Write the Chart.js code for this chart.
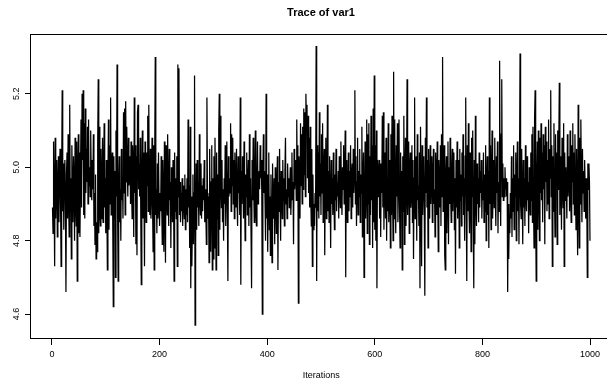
<!DOCTYPE html>
<html>
<head>
<meta charset="utf-8">
<script src="https://cdn.jsdelivr.net/npm/chart.js@4/dist/chart.umd.min.js"></script>
<style>
  html, body { margin: 0; padding: 0; background: #fff; overflow: hidden; }
  #wrap { width: 607px; height: 388px; overflow: hidden; }
</style>
</head>
<body>
<div id="wrap"><canvas id="trace" width="642" height="388"></canvas></div>
<script>
// trace of var1, iterations 1..1000 (10 per row)
const var1 = [
  4.89, 4.82, 5.07, 4.92, 4.73, 5.08, 4.86, 4.96, 5.02, 4.81,
  4.94, 5.03, 4.85, 4.98, 5.05, 4.90, 4.73, 4.96, 5.21, 4.88,
  5.01, 4.83, 4.95, 5.02, 4.91, 4.66, 4.98, 5.04, 4.86, 5.09,
  4.92, 4.81, 5.17, 4.88, 4.97, 4.75, 5.06, 4.93, 4.85, 5.03,
  4.96, 4.80, 5.08, 4.91, 4.84, 5.07, 4.69, 4.98, 5.09, 4.82,
  5.04, 4.81, 4.97, 5.13, 4.89, 5.20, 5.02, 5.21, 4.87, 5.12,
  4.86, 5.16, 4.93, 5.05, 4.96, 5.11, 4.90, 5.13, 4.95, 5.00,
  4.92, 5.10, 4.97, 4.91, 5.02, 4.94, 5.09, 4.84, 4.93, 4.79,
  4.98, 4.75, 4.85, 4.77, 5.06, 5.24, 4.82, 5.11, 4.88, 4.84,
  5.05, 4.86, 4.93, 5.08, 4.85, 4.96, 5.12, 4.89, 4.97, 4.82,
  5.02, 4.91, 4.72, 4.95, 5.13, 4.83, 5.06, 4.90, 5.19, 4.87,
  4.98, 5.04, 4.85, 4.62, 5.03, 4.86, 4.99, 4.70, 5.10, 4.92,
  5.28, 4.88, 4.69, 4.96, 5.03, 4.85, 4.94, 4.80, 5.05, 4.91,
  4.97, 4.86, 5.15, 4.93, 5.16, 4.87, 5.18, 4.96, 5.11, 5.00,
  4.92, 5.08, 4.95, 4.98, 5.03, 4.90, 5.07, 4.94, 4.86, 5.06,
  4.99, 4.81, 5.19, 4.93, 5.06, 4.79, 5.03, 4.76, 5.15, 5.17,
  4.94, 5.01, 4.92, 5.08, 4.89, 4.68, 4.97, 5.10, 4.86, 5.04,
  4.93, 4.73, 5.07, 4.91, 4.85, 5.04, 4.95, 5.14, 4.88, 5.17,
  4.90, 4.87, 5.05, 4.86, 4.92, 5.08, 4.89, 4.77, 5.06, 4.72,
  5.03, 5.30, 4.87, 4.94, 4.82, 5.01, 4.86, 5.04, 4.90, 4.84,
  4.93, 4.88, 5.03, 4.90, 4.79, 5.02, 4.92, 4.77, 5.07, 4.90,
  4.74, 5.06, 4.93, 4.87, 5.09, 4.93, 4.84, 5.05, 4.91, 4.96,
  4.78, 5.00, 4.92, 4.85, 5.02, 4.94, 4.69, 5.04, 4.88, 4.97,
  4.86, 5.03, 4.73, 5.28, 4.92, 5.27, 4.87, 4.96, 4.85, 4.93,
  4.88, 4.97, 4.84, 4.95, 4.91, 4.86, 4.98, 4.83, 4.94, 4.87,
  4.97, 4.85, 5.13, 4.89, 4.95, 4.78, 5.11, 4.67, 4.92, 4.73,
  4.84, 4.98, 4.79, 4.93, 5.25, 4.57, 4.78, 5.01, 4.83, 5.02,
  4.89, 4.96, 4.84, 5.09, 4.92, 4.87, 5.01, 4.86, 4.95, 4.88,
  4.97, 4.91, 5.02, 4.85, 4.94, 4.88, 4.79, 5.19, 4.93, 4.86,
  4.92, 4.74, 5.05, 4.90, 4.77, 4.96, 5.06, 4.72, 4.97, 4.75,
  5.03, 4.78, 5.08, 4.91, 4.72, 5.04, 4.86, 4.98, 4.76, 5.10,
  5.20, 4.83, 5.14, 4.96, 4.89, 5.02, 4.85, 4.94, 4.80, 4.97,
  4.90, 5.06, 4.84, 4.95, 5.07, 4.88, 4.69, 5.03, 4.92, 4.97,
  4.93, 5.12, 4.88, 5.09, 4.95, 5.08, 4.90, 5.02, 4.86, 5.04,
  4.96, 4.89, 5.05, 4.91, 4.84, 5.03, 4.93, 4.98, 4.87, 5.19,
  4.68, 4.99, 4.90, 5.03, 4.96, 4.86, 5.07, 4.93, 4.80, 4.98,
  4.92, 5.04, 4.87, 4.95, 5.02, 4.84, 5.09, 4.89, 4.97, 4.82,
  4.67, 5.02, 4.91, 5.08, 4.94, 4.85, 4.98, 5.10, 4.88, 4.84,
  4.96, 5.07, 4.90, 4.95, 4.99, 4.94, 5.06, 4.97, 5.02, 4.93,
  4.60, 4.98, 5.09, 4.93, 4.99, 4.91, 4.80, 5.20, 4.86, 4.98,
  4.77, 4.94, 5.04, 4.83, 4.92, 4.76, 4.98, 4.88, 4.74, 5.01,
  4.90, 4.86, 4.97, 4.79, 5.00, 4.93, 4.82, 4.95, 5.03, 4.72,
  4.96, 4.88, 5.05, 4.91, 4.80, 4.99, 4.93, 4.86, 5.02, 4.91,
  4.97, 4.84, 4.99, 5.08, 4.90, 4.94, 4.86, 5.01, 4.92, 4.97,
  4.89, 4.95, 5.00, 4.87, 4.93, 5.04, 4.91, 4.96, 4.79, 5.05,
  4.94, 4.99, 5.02, 4.91, 5.13, 4.93, 5.06, 4.63, 5.03, 4.97,
  4.86, 5.12, 4.95, 5.09, 4.90, 5.11, 4.94, 5.16, 4.98, 5.15,
  4.92, 5.20, 5.10, 5.17, 4.97, 5.14, 4.93, 5.08, 4.89, 5.11,
  4.92, 4.84, 5.05, 4.73, 4.98, 4.83, 4.90, 4.84, 4.93, 4.89,
  5.33, 4.69, 5.06, 4.88, 5.04, 4.86, 5.15, 4.92, 5.01, 4.87,
  5.09, 4.93, 5.12, 4.85, 4.99, 5.05, 4.76, 4.97, 5.08, 4.86,
  4.94, 5.17, 4.88, 4.99, 4.85, 5.03, 4.92, 4.78, 5.02, 4.90,
  4.97, 4.87, 5.04, 4.93, 4.83, 4.98, 4.91, 5.05, 4.88, 4.96,
  4.92, 4.99, 4.86, 5.03, 4.95, 4.89, 5.07, 4.93, 4.87, 5.00,
  4.94, 5.06, 4.90, 4.97, 5.10, 4.70, 5.02, 4.91, 4.85, 4.96,
  5.04, 4.88, 4.99, 4.92, 5.06, 4.86, 4.97, 5.01, 4.89, 5.05,
  4.93, 4.98, 5.21, 4.90, 5.03, 4.84, 4.96, 5.08, 4.87, 4.99,
  4.92, 5.05, 4.85, 4.98, 4.93, 5.11, 4.81, 4.96, 5.04, 4.70,
  4.89, 5.07, 4.86, 4.95, 5.13, 4.82, 5.09, 4.90, 5.12, 4.79,
  5.03, 4.87, 5.14, 4.91, 5.06, 4.78, 5.16, 4.85, 5.25, 4.83,
  5.06, 4.80, 5.10, 4.67, 5.02, 4.92, 4.99, 5.02, 4.86, 5.01,
  4.81, 5.01, 4.93, 5.14, 4.89, 5.15, 4.83, 4.98, 5.04, 4.86,
  5.08, 4.80, 4.97, 4.88, 5.12, 4.85, 4.96, 5.02, 4.78, 5.09,
  4.87, 5.14, 4.93, 4.80, 5.26, 4.86, 5.13, 4.90, 4.82, 5.06,
  4.92, 5.12, 4.85, 4.97, 5.13, 4.89, 4.78, 5.04, 4.93, 4.99,
  4.72, 5.03, 4.88, 5.14, 4.79, 4.95, 5.08, 4.84, 4.94, 5.24,
  4.87, 4.96, 5.07, 4.82, 4.99, 5.04, 4.89, 4.93, 5.06, 4.85,
  5.02, 4.75, 4.97, 5.19, 4.86, 4.98, 5.03, 4.80, 5.09, 4.91,
  4.95, 4.84, 5.04, 4.67, 5.11, 4.92, 4.73, 5.06, 4.87, 4.96,
  5.03, 4.88, 4.65, 5.08, 4.93, 5.19, 4.89, 5.02, 4.78, 5.05,
  4.92, 4.86, 5.06, 4.90, 4.98, 5.03, 4.85, 4.97, 5.05, 4.90,
  4.94, 4.81, 5.04, 4.99, 4.87, 5.07, 4.93, 4.77, 5.02, 4.95,
  4.89, 5.06, 4.84, 5.09, 4.92, 5.30, 4.88, 4.96, 5.06, 4.76,
  4.72, 4.98, 5.03, 4.82, 4.94, 5.07, 4.79, 5.00, 4.90, 5.08,
  4.93, 4.85, 4.99, 5.05, 4.88, 4.96, 5.04, 4.83, 4.97, 4.71,
  5.02, 4.89, 5.07, 4.86, 4.95, 5.02, 4.78, 5.05, 4.91, 4.98,
  4.84, 5.04, 4.92, 5.09, 4.87, 4.97, 4.80, 5.03, 5.19, 4.90,
  4.69, 5.06, 4.88, 5.12, 4.90, 4.82, 5.04, 4.94, 4.77, 5.08,
  4.92, 5.10, 4.85, 4.67, 5.02, 4.79, 5.14, 4.91, 4.84, 5.01,
  4.90, 4.97, 4.85, 5.04, 4.89, 4.99, 4.93, 5.02, 4.86, 4.95,
  4.91, 5.04, 4.85, 4.98, 4.88, 5.06, 4.80, 4.96, 5.03, 4.87,
  4.99, 4.78, 5.19, 4.90, 5.06, 4.83, 4.97, 5.10, 4.86, 4.94,
  5.02, 4.89, 5.08, 4.92, 4.84, 5.03, 4.93, 5.07, 4.82, 4.96,
  4.88, 5.29, 4.95, 4.84, 5.09, 5.24, 4.92, 5.01, 4.91, 4.97,
  4.92, 5.00, 4.94, 4.97, 4.92, 4.96, 4.66, 4.90, 4.75, 4.87,
  4.82, 4.93, 4.86, 5.03, 4.81, 4.97, 4.88, 5.06, 4.83, 4.98,
  4.92, 5.04, 4.80, 4.95, 5.07, 4.88, 4.97, 4.79, 5.01, 5.31,
  4.90, 4.86, 5.05, 4.93, 4.79, 5.02, 4.89, 4.97, 4.84, 5.06,
  4.93, 4.88, 5.03, 4.91, 4.96, 4.82, 5.00, 4.92, 4.87, 5.04,
  4.91, 5.09, 4.85, 5.11, 4.90, 4.78, 5.13, 5.21, 4.88, 4.69,
  4.97, 5.07, 4.83, 5.10, 4.95, 4.80, 5.08, 4.93, 5.12, 4.91,
  5.04, 4.85, 5.09, 4.94, 5.06, 4.79, 5.11, 4.96, 5.07, 4.88,
  5.02, 4.90, 5.13, 4.86, 5.05, 4.97, 5.21, 4.92, 5.06, 4.73,
  5.03, 4.88, 5.12, 4.93, 4.81, 5.09, 4.95, 5.04, 4.79, 5.10,
  4.94, 5.06, 5.23, 4.87, 5.03, 4.96, 4.83, 5.08, 4.95, 4.89,
  5.12, 4.73, 5.04, 4.91, 5.00, 4.95, 4.86, 5.09, 4.92, 4.97,
  5.03, 4.88, 5.10, 4.93, 4.85, 5.06, 4.96, 5.12, 4.90, 5.04,
  4.87, 5.09, 4.95, 4.83, 5.05, 4.92, 4.76, 5.17, 4.94, 4.78,
  5.08, 4.90, 5.13, 4.96, 4.85, 5.05, 4.93, 4.99, 4.88, 5.02,
  4.95, 4.86, 4.97, 4.92, 4.70, 5.01, 4.94, 5.01, 4.96, 4.80
];
const iterations = var1.map((v, i) => i + 1);
const xTicks = [0, 200, 400, 600, 800, 1000];
const yTicks = [4.6, 4.8, 5.0, 5.2];

const FONT = "'Liberation Sans', Arial, Helvetica, sans-serif";

// R style box round the plot region
const boxPlugin = {
  id: "box",
  afterDraw(chart) {
    const a = chart.chartArea;
    const c = chart.ctx;
    c.save();
    c.strokeStyle = "#000";
    c.lineWidth = 1;
    c.strokeRect(Math.round(a.left) - 0.5, Math.round(a.top) + 0.5,
      Math.round(a.right - a.left), Math.round(a.bottom - a.top) - 1);
    c.restore();
  },
};

new Chart(document.getElementById("trace"), {
  type: "line",
  data: {
    labels: iterations,
    datasets: [{
      data: var1,
      borderColor: "#000",
      borderWidth: 1.25,
      pointRadius: 0,
      tension: 0,
      fill: false,
    }],
  },
  options: {
    responsive: false,
    animation: false,
    devicePixelRatio: 1,
    layout: { padding: 0 },
    plugins: {
      legend: { display: false },
      tooltip: { enabled: false },
      title: {
        display: true,
        text: "Trace of var1",
        color: "#000",
        font: { family: FONT, size: 11, weight: "bold" },
        padding: { top: 6, bottom: 14.8 },
      },
    },
    scales: {
      x: {
        type: "linear",
        min: -38.96,
        max: 1039.96,
        afterFit(s) { s.height = 49; },
        afterBuildTicks(s) { s.ticks = xTicks.map(v => ({ value: v })); },
        border: { display: false },
        grid: { drawOnChartArea: false, drawTicks: true, tickLength: 6, color: "#000" },
        ticks: {
          color: "#000",
          font: { family: FONT, size: 9 },
          padding: 4,
          maxRotation: 0,
          autoSkip: false,
          callback: v => String(v),
        },
        title: {
          display: true,
          text: "Iterations",
          color: "#000",
          font: { family: FONT, size: 9 },
          padding: { top: 0, bottom: 6.6 },
        },
      },
      y: {
        min: 4.532,
        max: 5.363,
        afterFit(s) { s.width = 31; },
        afterBuildTicks(s) { s.ticks = yTicks.map(v => ({ value: v })); },
        border: { display: false },
        grid: { drawOnChartArea: false, drawTicks: true, tickLength: 6, color: "#000" },
        ticks: {
          color: "#000",
          font: { family: FONT, size: 9 },
          padding: 2,
          minRotation: 90,
          maxRotation: 90,
          crossAlign: "center",
          callback: v => v.toFixed(1),
        },
      },
      yRight: {
        position: "right",
        display: true,
        afterFit(s) { s.width = 30.5; },
        border: { display: false },
        grid: { display: false },
        ticks: { display: false },
      },
    },
  },
  plugins: [boxPlugin],
});
</script>
</body>
</html>
